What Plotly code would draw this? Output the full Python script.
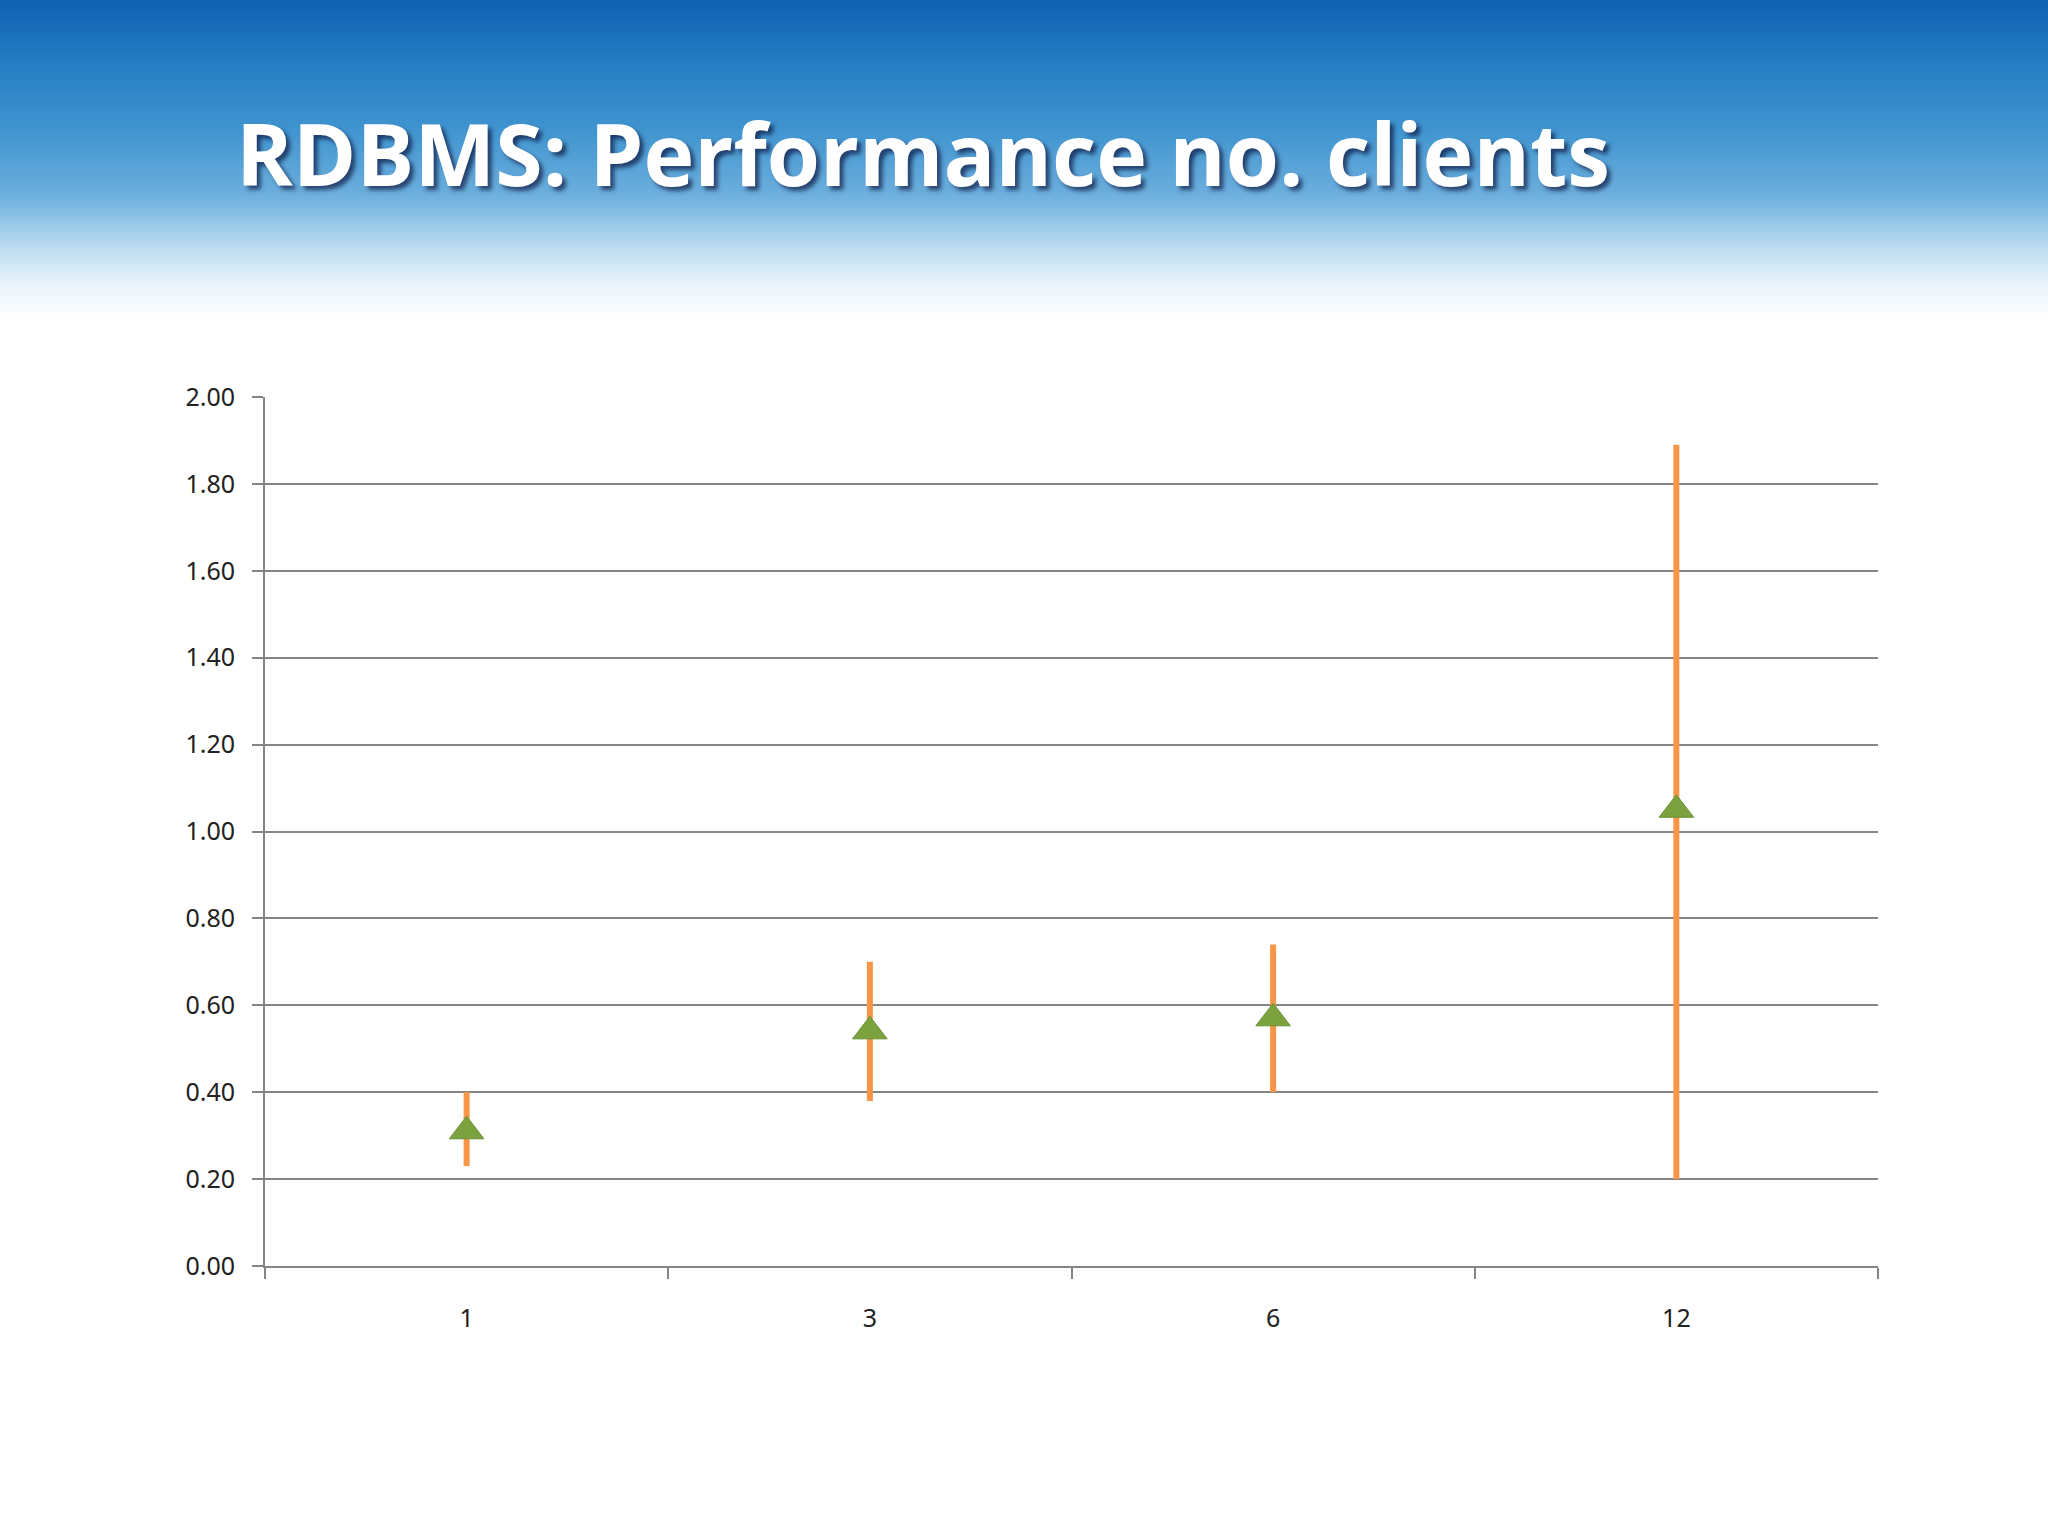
import plotly.graph_objs as go

# Data
clients = ["1", "3", "6", "12"]
mean_time = [0.31, 0.54, 0.57, 1.05]
upper_time = [0.40, 0.70, 0.74, 1.89]
lower_time = [0.23, 0.38, 0.40, 0.20]
y_ticks = [0.0, 0.2, 0.4, 0.6, 0.8, 1.0, 1.2, 1.4, 1.6, 1.8, 2.0]

W, H = 2048, 1536
L, R, T, B = 265, 170, 397, 270

err_plus = [u - m for u, m in zip(upper_time, mean_time)]
err_minus = [m - l for m, l in zip(mean_time, lower_time)]

data = [go.Scatter(x=clients,
                   y=mean_time,
                   mode='markers',
                   marker=dict(symbol='triangle-up', size=30, color='#7ba23f',
                               line=dict(color='#6a9135', width=1)),
                   error_y=dict(type='data', symmetric=False,
                                array=err_plus, arrayminus=err_minus,
                                color='#f79646', thickness=6, width=0),
                   showlegend=False)]

# Blue sky band behind the title, built from thin horizontal strips
stops = [(0, (14, 96, 176)), (60, (36, 124, 194)), (130, (64, 148, 207)),
         (195, (108, 175, 222)), (245, (185, 218, 240)), (285, (234, 244, 251)),
         (320, (255, 255, 255))]

def sky_colour(py):
    for (p0, c0), (p1, c1) in zip(stops[:-1], stops[1:]):
        if p0 <= py <= p1:
            f = (py - p0) / (p1 - p0)
            return 'rgb(%d,%d,%d)' % tuple(round(a + (b - a) * f) for a, b in zip(c0, c1))
    return 'rgb(255,255,255)'

plot_w, plot_h = W - L - R, H - T - B
shapes = []
step = 4
for py in range(0, 320, step):
    shapes.append(dict(type='rect', layer='below', xref='paper', yref='paper',
                       x0=-L / plot_w, x1=(W - L) / plot_w,
                       y0=(H - B - py - step - 1) / plot_h, y1=(H - B - py) / plot_h,
                       fillcolor=sky_colour(py + step / 2), line=dict(width=0)))

layout = go.Layout(
    width=W, height=H,
    margin=dict(l=L, r=R, t=T, b=B),
    paper_bgcolor='white', plot_bgcolor='white',
    shapes=shapes,
    font=dict(family='Noto Sans', size=25, color='#222222'),
    xaxis=dict(type='category', range=[-0.5, 3.5], tickson='boundaries',
               ticks='outside', ticklen=11, tickwidth=2, tickcolor='#858585',
               showline=True, linecolor='#858585', linewidth=2,
               showgrid=False, ticklabelstandoff=29),
    yaxis=dict(range=[0, 2.0], tickvals=y_ticks, tickformat='.2f',
               ticks='outside', ticklen=11, tickwidth=2, tickcolor='#858585',
               showline=True, linecolor='#858585', linewidth=2,
               showgrid=True, gridcolor='#858585', gridwidth=2,
               zeroline=False, ticklabelstandoff=12),
    annotations=[dict(text='<b>RDBMS: Performance no. clients</b>',
                      xref='paper', yref='paper', showarrow=False,
                      x=(234 - L) / plot_w, xanchor='left',
                      y=(H - B - 152) / plot_h, yanchor='middle',
                      font=dict(family='Open Sans', size=86, color='white',
                                shadow='4px 4px 4px rgba(0,0,40,0.6)'))]
)

fig = go.Figure(data=data, layout=layout)
fig.write_html("out.html", config={'displayModeBar': False},
               post_script="document.body.style.margin='0px';")
